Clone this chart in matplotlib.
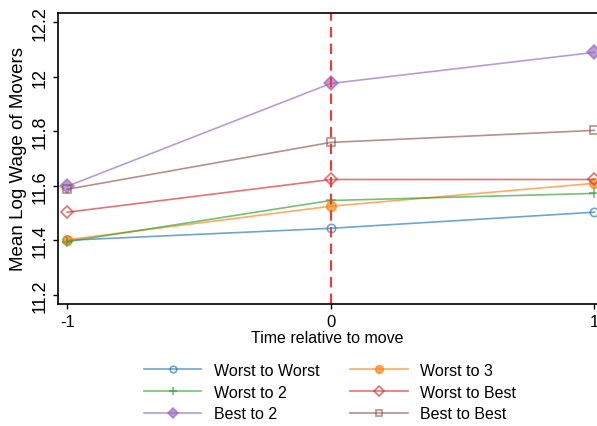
import matplotlib.pyplot as plt
import numpy as np

plt.rcParams['font.family'] = ['Liberation Sans', 'DejaVu Sans']

periods = [-1, 0, 1]
labels = ['Worst to Worst', 'Worst to 3', 'Worst to 2', 'Worst to Best', 'Best to 2', 'Best to Best']
worst_worst = [11.400, 11.444, 11.503]
worst_3 = [11.402, 11.525, 11.609]
worst_2 = [11.395, 11.546, 11.572]
worst_best = [11.503, 11.623, 11.623]
best_2 = [11.598, 11.975, 12.089]
best_best = [11.587, 11.759, 11.803]

series = [worst_worst, worst_3, worst_2, worst_best, best_2, best_best]
colors = ['#1f77b4', '#ff7f0e', '#2ca02c', '#d62728', '#9467bd', '#8c564b']
markers = ['o', 'o', '+', 'D', 'D', 's']
filled = [False, True, True, False, True, False]
sizes = [6, 7, 7, 6, 7, 6]

fig = plt.figure(figsize=(5.97, 4.27), dpi=100)
ax = fig.add_axes([0.097, 0.286, 0.903, 0.681])

handles = []
for vals, lab, c, m, f, s in zip(series, labels, colors, markers, filled, sizes):
    h, = ax.plot(periods, vals, color=c, alpha=0.65, lw=1.2, marker=m, ms=s,
                 markerfacecolor=c if f else 'none', markeredgecolor=c,
                 markeredgewidth=1.2, label=lab)
    handles.append(h)

ax.axvline(0, color='#ff3333', ls=(0, (5, 3)), lw=1.5)

ax.set_xlim(-1.035, 1.01)
ax.set_ylim(11.167, 12.233)
ax.set_xticks([-1, 0, 1])
ax.set_xticklabels(['-1', '0', '1'])
ax.set_yticks([11.2, 11.4, 11.6, 11.8, 12, 12.2])
ax.set_yticklabels(['11.2', '11.4', '11.6', '11.8', '12', '12.2'], rotation=90, va='center')
ax.tick_params(axis='x', labelsize=12, length=3.5, width=1)
ax.tick_params(axis='y', labelsize=13, length=3.5, width=1)
ax.spines['right'].set_visible(False)
for sp in ['left', 'top', 'bottom']:
    ax.spines[sp].set_linewidth(1.2)

ax.set_xlabel('Time relative to move', fontsize=11.5, labelpad=1)
ax.set_ylabel('Mean Log Wage of Movers', fontsize=13.5, labelpad=3)

# row-wise order in a two-column legend
order = [0, 2, 4, 1, 3, 5]
fig.legend([handles[i] for i in order], [labels[i] for i in order],
           loc='center', bbox_to_anchor=(0.553, 0.079), ncol=2, frameon=False,
           fontsize=11.5, handlelength=3.6, columnspacing=1.9, labelspacing=0.42,
           markerscale=0.8)

fig.savefig('out.png', dpi=100)
